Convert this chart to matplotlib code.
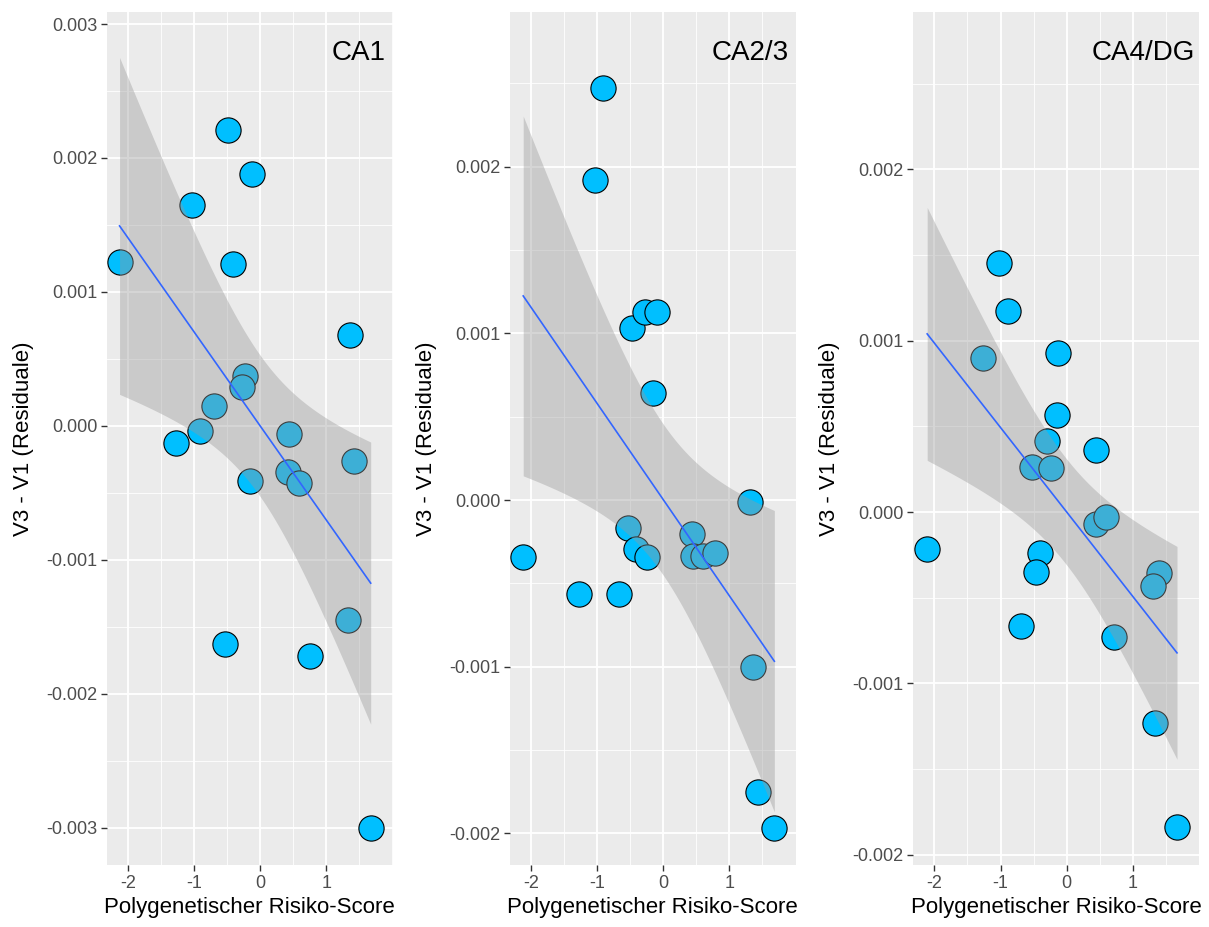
import numpy as np
import matplotlib
matplotlib.use("Agg")
import matplotlib.pyplot as plt
from matplotlib.ticker import MultipleLocator, FormatStrFormatter

plt.rcParams['font.family'] = ['Liberation Sans', 'DejaVu Sans']
plt.rcParams['axes.unicode_minus'] = False

panel_labels = ["CA1", "CA2/3", "CA4/DG"]

x_ca1 = [-2.13, -1.04, -0.49, -0.12, -0.42, 1.35, -0.23, -0.28, -0.70, -0.92,
         -1.27, 0.43, 1.41, 0.42, 0.59, -0.15, 1.32, -0.53, 0.75, 1.67]
y_ca1 = [0.00122, 0.00165, 0.00221, 0.00188, 0.00121, 0.00068, 0.00037, 0.00029,
         0.000147, -0.000037, -0.000127, -0.000062, -0.000264, -0.000346,
         -0.000425, -0.000411, -0.00145, -0.00163, -0.00172, -0.0030]

x_ca23 = [-0.91, -1.04, -0.47, -0.28, -0.10, -0.15, 1.31, -0.53, -0.41, -0.25,
          -2.12, 0.44, 0.45, 0.60, 0.78, -1.27, -0.67, 1.36, 1.43, 1.68]
y_ca23 = [0.00247, 0.00192, 0.00103, 0.00113, 0.00113, 0.00064, -0.000012,
          -0.000166, -0.000296, -0.00034, -0.00034, -0.000204, -0.000336,
          -0.000336, -0.00032, -0.000566, -0.000566, -0.0010, -0.00175, -0.00197]

x_ca4 = [-1.03, -0.89, -1.27, -0.13, -0.15, -0.29, 0.45, -0.53, -0.23, 0.44,
         0.59, -2.11, -0.40, -0.46, 1.40, 1.30, -0.69, 0.71, 1.33, 1.67]
y_ca4 = [0.001455, 0.001173, 0.000897, 0.000926, 0.000566, 0.000416, 0.000362,
         0.000261, 0.000255, -0.00007, -0.000027, -0.000216, -0.000241,
         -0.000348, -0.000354, -0.000432, -0.000665, -0.000728, -0.00123, -0.00184]

xs_all = [x_ca1, x_ca23, x_ca4]
ys_all = [y_ca1, y_ca23, y_ca4]

ylims = [(-0.00328, 0.00309), (-0.00219, 0.002928), (-0.00206, 0.002919)]
yticks = [np.arange(-0.003, 0.0031, 0.001), np.arange(-0.002, 0.0021, 0.001),
          np.arange(-0.002, 0.0021, 0.001)]
label_x = [0.977, 0.977, 0.988]

W, H = 1209, 927
fig = plt.figure(figsize=(W / 100, H / 100), dpi=100)
lefts = [107, 510, 913.3]
pw = 285.5
top, bottom = 12, 865

t975 = 2.1009  # t quantile, df = 18

for i in range(3):
    ax = fig.add_axes([lefts[i] / W, (H - bottom) / H, pw / W, (bottom - top) / H])
    ax.set_facecolor('#EBEBEB')
    for s in ax.spines.values():
        s.set_visible(False)

    x = np.array(xs_all[i])
    y = np.array(ys_all[i])

    ax.scatter(x, y, s=330, c='#00BFFF', edgecolors='black', linewidths=0.8, zorder=3)

    # linear fit with 95% confidence band
    n = len(x)
    b, a = np.polyfit(x, y, 1)
    resid = y - (a + b * x)
    sres = np.sqrt(np.sum(resid ** 2) / (n - 2))
    xm = x.mean()
    sxx = np.sum((x - xm) ** 2)
    xf = np.linspace(x.min(), x.max(), 80)
    yf = a + b * xf
    se = sres * np.sqrt(1 / n + (xf - xm) ** 2 / sxx)
    ax.fill_between(xf, yf - t975 * se, yf + t975 * se, color='#999999', alpha=0.4,
                    linewidth=0, zorder=4)
    ax.plot(xf, yf, color='#3366FF', linewidth=1.2, zorder=5)

    ax.set_xlim(-2.32, 2.0)
    ax.set_ylim(*ylims[i])
    ax.set_xticks([-2, -1, 0, 1])
    ax.xaxis.set_minor_locator(MultipleLocator(0.5))
    ax.set_yticks(yticks[i])
    ax.yaxis.set_minor_locator(MultipleLocator(0.0005))
    ax.yaxis.set_major_formatter(FormatStrFormatter('%.3f'))
    ax.grid(which='major', color='white', linewidth=1.3, zorder=0)
    ax.grid(which='minor', color='white', linewidth=0.6, zorder=0)
    ax.set_axisbelow(True)
    ax.tick_params(which='major', length=4, width=1, color='#333333',
                   labelsize=13, labelcolor='#4D4D4D', pad=3)
    ax.tick_params(which='minor', length=0)

    ax.set_xlabel('Polygenetischer Risiko-Score', fontsize=16, color='black', labelpad=4)
    ax.set_ylabel('V3 - V1 (Residuale)', fontsize=16, color='black')
    ax.yaxis.set_label_coords(-0.257, 0.5)

    ax.text(label_x[i], 0.952, panel_labels[i], transform=ax.transAxes,
            ha='right', va='center', fontsize=20, color='black')

fig.savefig('out.png', dpi=100)
